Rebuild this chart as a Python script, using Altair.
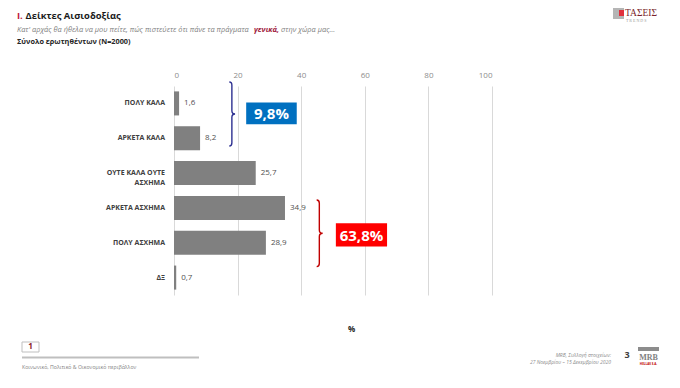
import altair as alt
import pandas as pd

# ---------------- data ----------------
categories = ["ΠΟΛΥ ΚΑΛΑ", "ΑΡΚΕΤΑ ΚΑΛΑ", "ΟΥΤΕ ΚΑΛΑ ΟΥΤΕ ΑΣΧΗΜΑ",
              "ΑΡΚΕΤΑ ΑΣΧΗΜΑ", "ΠΟΛΥ ΑΣΧΗΜΑ", "ΔΞ"]
values = [1.6, 8.2, 25.7, 34.9, 28.9, 0.7]
x_ticks = [0, 20, 40, 60, 80, 100]
positive_group = ["ΠΟΛΥ ΚΑΛΑ", "ΑΡΚΕΤΑ ΚΑΛΑ"]
negative_group = ["ΑΡΚΕΤΑ ΑΣΧΗΜΑ", "ΠΟΛΥ ΑΣΧΗΜΑ"]
long_label_lines = ["ΟΥΤΕ ΚΑΛΑ ΟΥΤΕ", "ΑΣΧΗΜΑ"]


def gr(v):
    return f"{v:.1f}".replace(".", ",")


NB = "\u00a0"
df = pd.DataFrame({"cat": categories, "value": values})
df["label"] = [gr(v) for v in values]
df["ylab"] = [
    (long_label_lines[0] + "\n" + long_label_lines[1] + NB * 8)
    if c == categories[2] else c
    for c in categories
]
pos_total = sum(v for c, v in zip(categories, values) if c in positive_group)
neg_total = sum(v for c, v in zip(categories, values) if c in negative_group)

FONT = "Open Sans"
one = pd.DataFrame({"k": [0]})
xs = alt.Scale(domain=[0, 100], nice=False)
yband = alt.Scale(paddingInner=0.31, paddingOuter=0.155)

x_axis = alt.Axis(
    orient="top", values=x_ticks, grid=True, gridColor="#d9d9d9",
    domain=False, ticks=False, labelColor="#8c8c8c",
    labelFontSize=8, labelPadding=7, title="%", titleX=177, titleY=243,
    titleAlign="center", titleBaseline="middle", titleFontSize=8,
    titleFontWeight="bold", titleColor="#262626",
)

# ---------------- main bars ----------------
bars = alt.Chart(df).mark_bar(color="#808080").encode(
    x=alt.X("value:Q", scale=xs, axis=x_axis),
    y=alt.Y("cat:N", sort=categories, scale=yband, axis=None),
)

cat_labels = alt.Chart(df).mark_text(
    align="right", baseline="middle", fontSize=7, fontWeight="bold",
    color="#404040", lineBreak="\n", lineHeight=10,
).encode(
    x=alt.value(-9),
    y=alt.Y("cat:N", sort=categories, axis=None),
    text="ylab:N",
)

value_labels = alt.Chart(df).mark_text(
    align="left", baseline="middle", dx=5, fontSize=8, color="#505050"
).encode(
    x=alt.X("value:Q", scale=xs, axis=x_axis),
    y=alt.Y("cat:N", sort=categories, axis=None),
    text="label:N",
)

# ---------------- braces and summary boxes ----------------
BRACE = "M -0.08 -1 Q 0 -1 0 -0.9 L 0 -0.1 Q 0 0 0.1 0 Q 0 0 0 0.1 L 0 0.9 Q 0 1 -0.08 1"


def brace(xv, ypx, size, color):
    return alt.Chart(one).mark_point(
        shape=BRACE, size=size, filled=False, color=color, strokeWidth=1.4, opacity=1
    ).encode(
        x=alt.XDatum(xv, type="quantitative", scale=xs, axis=x_axis),
        y=alt.value(ypx),
    )


def box(x1, x2, y1, y2, color):
    return alt.Chart(one).mark_rect(color=color).encode(
        x=alt.XDatum(x1, type="quantitative", scale=xs, axis=x_axis),
        x2=alt.X2Datum(x2),
        y=alt.value(y1),
        y2=alt.value(y2),
    )


def box_text(xv, ypx, txt):
    return alt.Chart(one).mark_text(
        text=txt, fontSize=15, fontWeight="bold", color="white",
        align="center", baseline="middle",
    ).encode(
        x=alt.XDatum(xv, type="quantitative", scale=xs, axis=x_axis),
        y=alt.value(ypx),
    )


annots = [
    brace(18.2, 28, 4096, "#2e3192"),
    brace(45.7, 147.3, 4450, "#c00000"),
    box(22.7, 38.6, 16.4, 38.3, "#0070c0"),
    box(50.9, 67.0, 137.2, 160.6, "#ff0000"),
    box_text(30.65, 28, gr(pos_total) + "%"),
    box_text(58.95, 149.5, gr(neg_total) + "%"),
]


# ---------------- slide decorations ----------------
def txt(t, x, y, size, color="#262626", weight="normal", style="normal",
        align="left", baseline="alphabetic", font=FONT):
    return alt.Chart(one).mark_text(
        text=t, fontSize=size, color=color, fontWeight=weight, fontStyle=style,
        align=align, baseline=baseline, font=font,
    ).encode(x=alt.value(x), y=alt.value(y))


def rect(x1, x2, y1, y2, fill, stroke=None):
    kw = {"fill": fill}
    if stroke:
        kw.update(stroke=stroke, strokeWidth=1)
    return alt.Chart(one).mark_rect(**kw).encode(
        x=alt.value(x1), x2=alt.value(x2), y=alt.value(y1), y2=alt.value(y2)
    )


def hline(x1, x2, y, color, width):
    return alt.Chart(one).mark_rule(color=color, strokeWidth=width).encode(
        x=alt.value(x1), x2=alt.value(x2), y=alt.value(y)
    )


decor = [
    txt("I.", -157, -67.5, 9.4, color="#c0143c", weight="bold"),
    txt("Δείκτες Αισιοδοξίας", -148.5, -67.5, 9.4, color="#1a1a1a", weight="bold"),
    txt("Κατ' αρχάς θα ήθελα να μου πείτε, πώς πιστεύετε ότι πάνε τα πράγματα",
        -157, -54.5, 7.4, color="#7f7f7f", style="italic"),
    txt("γενικά,", 80, -54.5, 7.4, color="#a0203c", style="italic", weight="bold"),
    txt("στην χώρα μας…", 107, -54.5, 7.4, color="#7f7f7f", style="italic"),
    txt("Σύνολο ερωτηθέντων (N=2000)", -157, -42.5, 7.3, color="#262626", weight="bold"),
    # top-right logo
    rect(439, 450, -78, -67, "#b5b5b5"),
    rect(445, 450, -76, -70, "#e0303c"),
    txt("ΤΑΣΕΙΣ", 451, -70, 9.5, color="#7a1f2b", font="Liberation Serif"),
    txt("T R E N D S", 452, -64.5, 4, color="#999999", font="Liberation Serif"),
    # footer left
    rect(-152, -135, 256, 266, "white", stroke="#bfbfbf"),
    txt("1", -143.5, 261, 8, color="#8b1a2b", weight="bold", align="center", baseline="middle"),
    hline(-152, 25, 271.5, "#bfbfbf", 2),
    txt("Κοινωνικό, Πολιτικό & Οικονομικό περιβάλλον", -152, 281, 5.2,
        color="#7f7f7f", baseline="middle"),
    # footer right
    txt("MRB, Συλλογή στοιχείων:", 437, 268.5, 5, color="#8c8c8c", style="italic",
        align="right", baseline="middle"),
    txt("27 Νοεμβρίου – 15 Δεκεμβρίου 2020", 437, 275.5, 5, color="#8c8c8c",
        style="italic", align="right", baseline="middle"),
    txt("3", 453, 269, 9, color="#404040", weight="bold", align="center", baseline="middle"),
    rect(464, 485, 261, 265, "#8c8c8c"),
    txt("MRB", 474.5, 271.5, 8, color="#7f7f7f", weight="bold", align="center",
        baseline="middle", font="Liberation Serif"),
    txt("HELLAS S.A.", 474.5, 278, 3, color="#c00000", weight="bold", align="center",
        baseline="middle"),
]

chart = alt.layer(bars, cat_labels, value_labels, *annots, *decor).properties(
    width=318,
    height=209,
    padding={"left": 166, "top": 78, "right": 176, "bottom": 81},
    autosize=alt.AutoSizeParams(type="none"),
).configure_view(stroke=None).configure_axis(
    labelFont=FONT, titleFont=FONT
).configure_text(font=FONT)

chart.save("out.html", embed_options={"renderer": "svg", "actions": False})
